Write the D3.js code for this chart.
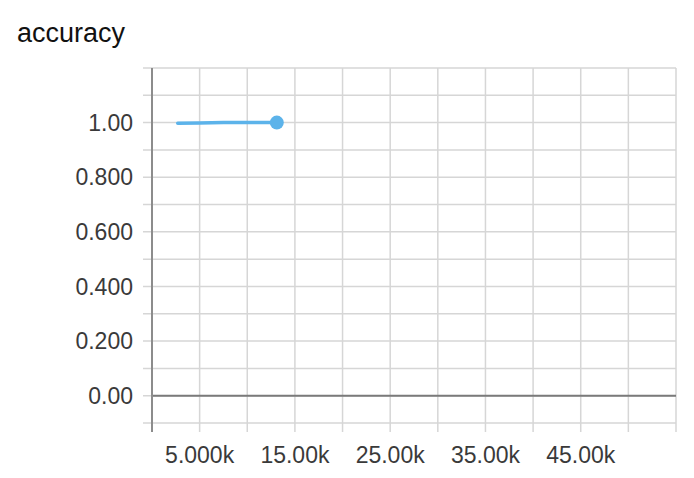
<!DOCTYPE html>
<html>
<head>
<meta charset="utf-8">
<script src="https://cdn.jsdelivr.net/npm/d3@7"></script>
<style>
  body { margin: 0; background: #fff; }
  text { font-family: "Liberation Sans", Arial, sans-serif; }
</style>
</head>
<body>
<div id="container"></div>
<script>
// accuracy run, values
var steps = [2700, 5000, 7500, 10000, 13100];
var accuracy = [0.998, 0.999, 1.0, 1.0, 1.0];
var yTicks = [0, 0.2, 0.4, 0.6, 0.8, 1.0];
var yTickLabels = ["0.00", "0.200", "0.400", "0.600", "0.800", "1.00"];
var xTicks = [5000, 15000, 25000, 35000, 45000];
var xTickLabels = ["5.000k", "15.00k", "25.00k", "35.00k", "45.00k"];

var width = 694, height = 478;
var mLeft = 152, mRight = 676, mTop = 68, mBottom = 423;

var svg = d3.select("#container").append("svg")
  .attr("width", width).attr("height", height);

var x = d3.scaleLinear().domain([0, 55000]).range([mLeft, mRight]);
var y = d3.scaleLinear().domain([-0.1, 1.2]).range([mBottom, mTop]);

// title
svg.append("text").attr("x", 17).attr("y", 42)
  .attr("font-size", 27).attr("fill", "#111").text("accuracy");

// grid
var xGrid = d3.range(5000, 55001, 5000);
var yGrid = d3.range(-1, 13).map(function(d){ return d / 10; });

svg.append("g").selectAll("line").data(yGrid).enter().append("line")
  .attr("x1", mLeft - 9).attr("x2", mRight)
  .attr("y1", function(d){ return y(d); }).attr("y2", function(d){ return y(d); })
  .attr("stroke", "#d6d6d6").attr("stroke-width", 1.5);

svg.append("g").selectAll("line").data(xGrid).enter().append("line")
  .attr("x1", function(d){ return x(d); }).attr("x2", function(d){ return x(d); })
  .attr("y1", mTop).attr("y2", mBottom + 9)
  .attr("stroke", "#d6d6d6").attr("stroke-width", 1.5);

// zero line
svg.append("line").attr("x1", mLeft).attr("x2", mRight)
  .attr("y1", y(0)).attr("y2", y(0))
  .attr("stroke", "#7a7a7a").attr("stroke-width", 2);

// y axis line
svg.append("line").attr("x1", mLeft).attr("x2", mLeft)
  .attr("y1", mTop).attr("y2", mBottom + 9)
  .attr("stroke", "#8c8c8c").attr("stroke-width", 2);

// tick labels
svg.append("g").selectAll("text").data(yTicks).enter().append("text")
  .attr("x", 133).attr("y", function(d){ return y(d); })
  .attr("dy", "0.35em").attr("text-anchor", "end")
  .attr("font-size", 23).attr("fill", "#3a3a3a")
  .text(function(d, i){ return yTickLabels[i]; });

svg.append("g").selectAll("text").data(xTicks).enter().append("text")
  .attr("x", function(d){ return x(d); }).attr("y", 463)
  .attr("text-anchor", "middle")
  .attr("font-size", 23).attr("fill", "#3a3a3a")
  .text(function(d, i){ return xTickLabels[i]; });

// series
var pts = steps.map(function(s, i){ return [s, accuracy[i]]; });
var line = d3.line().x(function(d){ return x(d[0]); }).y(function(d){ return y(d[1]); });
svg.append("path").datum(pts).attr("d", line)
  .attr("fill", "none").attr("stroke", "#5cb3ea").attr("stroke-width", 3.5)
  .attr("stroke-linecap", "round");
var last = pts[pts.length - 1];
svg.append("circle").attr("cx", x(last[0])).attr("cy", y(last[1])).attr("r", 7)
  .attr("fill", "#5cb3ea");
</script>
</body>
</html>
